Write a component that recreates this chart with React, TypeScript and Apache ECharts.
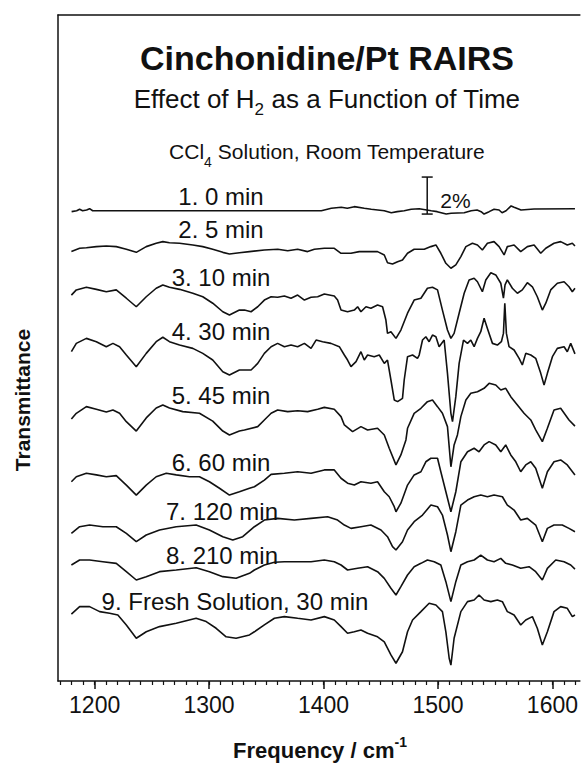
import React, { useEffect, useRef } from "react";
import * as echarts from "echarts";

const FONT = '"Liberation Sans", Arial, Helvetica, sans-serif';

// Frequency axis (cm^-1)
const freqMin = 1168;
const freqMax = 1624;
const majorTicks = [1200, 1300, 1400, 1500, 1600];
const minorTicks = [1170, 1180, 1190, 1200, 1210, 1220, 1230, 1240, 1250, 1260, 1270, 1280, 1290, 1300, 1310, 1320, 1330, 1340, 1350, 1360, 1370, 1380, 1390, 1400, 1410, 1420, 1430, 1440, 1450, 1460, 1470, 1480, 1490, 1500, 1510, 1520, 1530, 1540, 1550, 1560, 1570, 1580, 1590, 1600, 1610, 1620];

// Transmittance axis (%), traces are stacked with offsets
const tMin = 0;
const tMax = 36;

const traceLabels = [
  "1. 0 min",
  "2. 5 min",
  "3. 10 min",
  "4. 30 min",
  "5. 45 min",
  "6. 60 min",
  "7. 120 min",
  "8. 210 min",
  "9. Fresh Solution, 30 min",
];

const trace1 = [[1179.9,25.37],[1184.3,25.42],[1186.9,25.5],[1189.5,25.42],[1193,25.46],[1195.6,25.53],[1198.3,25.42],[1398.1,25.42],[1406.8,25.55],[1415.5,25.61],[1420.8,25.55],[1426.9,25.64],[1435.6,25.55],[1441.7,25.5],[1453.1,25.42],[1459.2,25.31],[1464.4,25.37],[1470.5,25.42],[1476.6,25.5],[1483.6,25.53],[1494.1,25.42],[1499.3,25.37],[1507.2,25.24],[1511.5,25.28],[1522.9,25.31],[1529,25.42],[1534.2,25.46],[1537.7,25.37],[1540.3,25.24],[1544.7,25.37],[1549,25.5],[1553.4,25.46],[1556,25.31],[1559.5,25.42],[1563.9,25.68],[1566.5,25.61],[1572.6,25.46],[1584,25.51],[1619.7,25.53]];

const trace2 = [[1179.7,23.21],[1186.9,23.39],[1192.8,23.42],[1201.5,23.48],[1210.2,23.51],[1218.9,23.48],[1227.7,23.34],[1236.4,23.17],[1245.1,23.48],[1253.8,23.66],[1259.6,23.75],[1265.4,23.69],[1274.2,23.66],[1285.8,23.57],[1294.5,23.48],[1303.2,23.34],[1312,23.17],[1317.8,23.08],[1326.5,23.15],[1335.3,23.21],[1348.3,23.3],[1360,23.34],[1368.7,23.26],[1377.4,23.34],[1386.1,23.21],[1392,23.34],[1400.7,23.39],[1409.4,23.39],[1415.3,23.12],[1424,23.12],[1431.2,23.21],[1447.2,23.21],[1453.1,23.03],[1455.9,22.61],[1460.3,22.54],[1464.7,22.66],[1469,22.76],[1473.4,23.12],[1479.2,23.34],[1488,23.34],[1493.8,23.48],[1498.2,23.57],[1502.5,23.12],[1506.9,22.58],[1511.3,22.31],[1515.6,22.49],[1520,22.94],[1524.4,23.48],[1530.1,23.66],[1534.5,23.57],[1538.8,23.3],[1543.2,23.66],[1549,23.75],[1553.4,23.48],[1557.8,23.03],[1560.6,23.48],[1566.5,23.57],[1572.3,23.21],[1578.1,23.48],[1584,23.57],[1589.8,23.12],[1594.2,23.39],[1601.4,23.66],[1607.2,23.75],[1613,23.57],[1617.4,23.66],[1619.7,23.51]];

const trace3 = [[1179.7,20.86],[1184,21.14],[1192.8,21.28],[1201.5,21.17],[1210.2,21.04],[1218.9,21.14],[1227.7,20.69],[1236.4,20.23],[1245.1,20.77],[1253.8,21.23],[1259.6,21.41],[1265.4,21.28],[1274.2,21.17],[1285.8,20.96],[1294.5,20.77],[1303.2,20.42],[1312,19.96],[1317.8,19.78],[1326.5,20.05],[1330.9,20.05],[1336.7,19.96],[1342.5,20.23],[1348.3,20.59],[1354.2,20.77],[1359.9,20.74],[1365.8,20.81],[1371.6,20.69],[1377.4,20.86],[1383.3,20.59],[1389.1,20.74],[1394.9,20.77],[1400.7,20.92],[1409.4,20.81],[1412.3,20.59],[1415.3,20.05],[1421,19.96],[1426.9,20.05],[1429.8,20.23],[1432.7,19.96],[1437.1,20.23],[1441.4,20.15],[1447.2,20.32],[1451.6,20.23],[1454.5,19.51],[1455.9,18.79],[1458.9,18.88],[1463.3,18.52],[1467.6,18.97],[1473.4,19.88],[1479.2,20.59],[1485.1,20.69],[1490.8,21.23],[1495.2,21.28],[1499.6,21.14],[1503.9,20.05],[1508.3,18.97],[1511.3,18.52],[1514.1,18.79],[1518.5,19.88],[1522.9,20.96],[1527.2,21.68],[1531.6,21.77],[1534.5,21.58],[1538.8,21.04],[1541.8,21.68],[1546.2,22.07],[1550.5,21.95],[1554.9,21.5],[1557.2,20.69],[1558.6,21.41],[1560.6,21.68],[1565,21.23],[1569.4,20.96],[1573.7,21.14],[1578.1,21.53],[1582.5,21.31],[1586.8,20.77],[1591.2,20.05],[1594.2,20.42],[1598.5,21.14],[1604.3,21.5],[1610.2,21.58],[1614.5,21.31],[1617.4,21.04],[1619.7,21.23]];

const trace4 = [[1179.7,17.8],[1184,18.25],[1192.8,18.52],[1201.5,18.34],[1210.2,18.07],[1216,18.25],[1221.8,18.07],[1227.7,17.62],[1236.4,16.99],[1245.1,17.71],[1253.8,18.34],[1259.6,18.58],[1265.4,18.34],[1274.2,18.16],[1285.8,17.98],[1294.5,17.71],[1303.2,17.35],[1312,16.72],[1317.8,16.54],[1326.5,16.81],[1336.7,16.81],[1342.5,17.17],[1348.3,17.71],[1354.2,18.07],[1359.9,18.25],[1365.8,18.07],[1371.6,18.16],[1377.4,18.07],[1383.3,18.25],[1389.1,17.98],[1393.5,18.43],[1399.2,18.34],[1406.5,18.25],[1413.8,18.07],[1418.2,17.62],[1421,17.35],[1424,16.99],[1428.4,17.26],[1432.7,17.8],[1435.6,17.35],[1438.5,17.62],[1444.3,17.53],[1448.7,17.62],[1453.1,17.17],[1455.9,17.35],[1458.9,16.27],[1461.8,15.19],[1464.7,15.1],[1469,15.28],[1470.5,16.27],[1473.4,17.53],[1477.8,17.62],[1482.1,17.44],[1483.6,17.62],[1486.5,18.43],[1489.4,18.61],[1492.3,18.34],[1495.2,18.7],[1498.2,18.61],[1501,18.07],[1505.4,18.43],[1508.3,16.63],[1511.3,14.47],[1512.7,14.02],[1515.6,15.37],[1518.5,17.17],[1522.3,18.43],[1525.8,18.25],[1528.7,18.43],[1531.6,18.07],[1534.5,18.52],[1537.4,18.88],[1540.3,19.61],[1543.2,19.06],[1547.6,18.25],[1551.9,18.16],[1555.4,18.34],[1557.2,18.79],[1558.4,20.42],[1559.8,18.79],[1562.1,18.07],[1566.5,17.89],[1570.9,17.44],[1573.7,17.08],[1576.7,17.71],[1581.1,17.62],[1585.4,17.44],[1589.8,16.63],[1592.7,16],[1595.6,16.63],[1600,17.53],[1604.3,17.98],[1610.2,18.07],[1613,17.8],[1616,18.25],[1619.7,17.68]];

const trace5 = [[1179.7,14.16],[1184,14.47],[1192.8,14.83],[1201.5,14.69],[1210.2,14.54],[1216,14.65],[1221.8,14.47],[1227.7,14.02],[1236.4,13.51],[1245.1,14.22],[1253.8,14.76],[1259.6,14.92],[1265.4,14.76],[1277,14.56],[1291.6,14.47],[1303.2,14.05],[1312,13.51],[1317.8,13.3],[1326.5,13.51],[1330.9,13.57],[1342.5,13.75],[1348.3,14.11],[1354.2,14.47],[1359.9,14.65],[1368.7,14.56],[1377.4,14.61],[1386.1,14.56],[1394.9,14.69],[1400.7,14.79],[1409.4,14.69],[1415.3,14.29],[1418.2,13.84],[1425.4,13.48],[1432.7,13.75],[1438.5,13.57],[1447.2,13.66],[1453.1,13.3],[1457.4,12.58],[1463.3,11.68],[1467.6,12.22],[1472,13.03],[1473.4,13.66],[1479.2,14.47],[1485.1,14.74],[1490.8,15.1],[1495.2,15.19],[1499.6,14.83],[1503.9,14.47],[1508.3,13.75],[1511.3,11.58],[1514.1,12.76],[1517,13.3],[1520,14.29],[1524.4,15.19],[1528.7,15.55],[1534.5,15.64],[1540.3,15.82],[1544.7,16.09],[1550.5,16],[1554.9,15.73],[1559.2,15.82],[1563.6,15.37],[1569.4,14.92],[1575.2,14.47],[1581.1,14.11],[1585.4,13.57],[1591.2,12.94],[1595.6,13.66],[1601.4,14.65],[1607.2,14.74],[1614.5,14.11],[1619.7,13.78]];

const trace6 = [[1179.7,10.77],[1184,11.04],[1192.8,11.23],[1201.5,11.14],[1210.2,11.04],[1218.9,11.1],[1227.7,10.59],[1236.4,10.05],[1245.1,10.59],[1253.8,11.04],[1262.6,11.23],[1271.3,11.14],[1282.9,11.04],[1291.6,11.04],[1300.3,10.77],[1309.1,10.42],[1317.8,10.05],[1326.5,10.23],[1335.3,10.42],[1339.6,10.5],[1348.3,10.86],[1354.2,11.17],[1365.8,11.23],[1377.4,11.31],[1389.1,11.23],[1400.7,11.41],[1409.4,11.41],[1415.3,10.96],[1421,10.69],[1426.9,10.59],[1432.7,10.77],[1441.4,10.69],[1447.2,10.77],[1453.1,10.23],[1457.4,9.96],[1461.8,9.42],[1463.3,9.15],[1467.6,9.61],[1473.4,10.59],[1479.2,11.14],[1485.1,11.31],[1489.4,11.85],[1493.8,12.04],[1499.6,12.04],[1502.5,11.31],[1506.9,10.23],[1511.3,9.15],[1515.6,10.23],[1520,11.85],[1525.8,12.39],[1531.6,12.58],[1535.9,12.39],[1540.3,12.76],[1544.7,12.94],[1550.5,12.76],[1554.9,12.39],[1559.2,12.76],[1563.6,12.22],[1568,11.85],[1572.3,11.31],[1576.7,11.68],[1581.1,11.85],[1585.4,11.5],[1591.2,10.42],[1595.6,11.31],[1601.4,11.85],[1607.2,11.95],[1613,11.68],[1619.7,11.14]];

const trace7 = [[1179.7,7.98],[1186.9,8.34],[1195.6,8.43],[1207.2,8.34],[1218.9,8.34],[1227.7,7.98],[1236.4,7.53],[1245.1,7.89],[1256.7,8.16],[1271.3,8.34],[1288.7,8.43],[1300.3,8.16],[1312,7.8],[1320.7,7.62],[1329.4,7.8],[1339.6,8.34],[1348.3,8.7],[1359.9,8.79],[1374.5,8.7],[1389.1,8.79],[1403.6,8.88],[1412.3,8.7],[1418.2,8.43],[1424,8.25],[1432.7,8.34],[1441.4,8.43],[1450.2,8.16],[1455.9,7.8],[1460.3,7.26],[1463.3,7.08],[1469,7.53],[1473.4,8.16],[1479.2,8.61],[1486.5,8.97],[1493.8,9.51],[1499.6,9.42],[1503.9,8.97],[1508.3,7.89],[1511.3,6.99],[1515.6,8.07],[1520,9.51],[1525.8,9.78],[1531.6,9.96],[1537.4,10.05],[1543.2,9.96],[1549,10.05],[1556.3,9.96],[1560.6,9.51],[1566.5,9.24],[1572.3,8.7],[1578.1,8.79],[1585.4,8.43],[1591.2,7.53],[1595.6,8.25],[1601.4,8.43],[1608.6,8.43],[1614.5,8.25],[1619.7,8.07]];

const trace8 = [[1179.7,6.27],[1186.9,6.54],[1195.6,6.54],[1207.2,6.45],[1218.9,6.36],[1227.7,5.91],[1236.4,5.46],[1245.1,5.64],[1256.7,5.91],[1271.3,6],[1288.7,6.12],[1300.3,5.91],[1312,5.64],[1323.6,5.55],[1335.3,5.82],[1339.6,6],[1348.3,6.27],[1357.1,6.42],[1365.8,6.45],[1377.4,6.45],[1389.1,6.45],[1400.7,6.54],[1409.4,6.45],[1415.3,6.27],[1421,6],[1429.8,6.09],[1438.5,6.18],[1447.2,5.91],[1453.1,5.55],[1458.9,5.01],[1463.3,4.65],[1467.6,5.1],[1473.4,5.73],[1479.2,6.18],[1485.1,6.36],[1490.8,6.54],[1496.7,6.45],[1502.5,6.27],[1506.9,5.37],[1511.3,4.29],[1515.6,5.37],[1520,6.27],[1525.8,6.45],[1531.6,6.54],[1537.4,6.81],[1543.2,6.54],[1549,6.45],[1554.9,6.63],[1559.2,6.36],[1565,6.27],[1572.3,6.09],[1579.6,6.18],[1585.4,5.91],[1591.2,5.46],[1595.6,6.09],[1602.9,6.54],[1610.2,6.45],[1616,6.27],[1619.7,6.05]];

const trace9 = [[1179.7,3.62],[1186.9,4.02],[1195.6,4.02],[1204.4,3.75],[1213.1,3.66],[1220.3,3.57],[1227.7,3.03],[1236.4,2.31],[1245.1,2.66],[1256.7,2.94],[1271.3,3.12],[1288.7,3.39],[1297.5,3.21],[1306.2,2.85],[1314.9,2.39],[1323.6,2.31],[1335.3,2.49],[1339.6,2.66],[1348.3,3.03],[1357.1,3.39],[1365.8,3.48],[1377.4,3.39],[1389.1,3.3],[1400.7,3.48],[1409.4,3.3],[1415.3,2.94],[1421,2.58],[1426.9,2.66],[1432.7,2.76],[1438.5,2.58],[1447.2,2.39],[1453.1,2.12],[1458.9,1.41],[1463.3,0.96],[1469,1.58],[1473.4,2.66],[1477.8,3.3],[1485.1,3.75],[1492.3,4.2],[1498.2,4.11],[1503.9,3.75],[1506.9,2.66],[1509.8,1.23],[1511.3,0.86],[1514.1,2.31],[1520,3.75],[1525.8,4.29],[1531.6,4.38],[1535.9,4.65],[1540.3,4.38],[1546.2,4.29],[1551.9,4.38],[1556.3,4.29],[1560.6,3.75],[1566.5,3.57],[1572.3,3.03],[1576.7,3.3],[1582.5,3.48],[1586.8,2.85],[1591.2,1.95],[1595.6,2.66],[1601.4,3.75],[1607.2,4.02],[1613,3.93],[1617.4,3.48],[1619.7,3.57]];

const traces = [trace1, trace2, trace3, trace4, trace5, trace6, trace7, trace8, trace9];

// Scale bar: 2 % transmittance
const scaleBarFreq = 1490.6;
const scaleBarBase = 25.24;
const scaleBarSpan = 2;
const scaleBarLabel = "2%";

// Label centres (px) for each trace label
const labelPos = [
  [221, 196],
  [221, 229],
  [221, 277],
  [221, 331],
  [221, 395],
  [221, 462],
  [222, 511],
  [222, 555],
  [235, 601],
];

const INK = "#111";

function txt(x: number, y: number, text: string, extra: any = {}, rot = 0) {
  return {
    type: "text",
    x,
    y,
    rotation: rot,
    silent: true,
    style: Object.assign(
      {
        text,
        fill: INK,
        fontFamily: FONT,
        fontSize: 20,
        align: "center",
        verticalAlign: "middle",
        textAlign: "center",
        textVerticalAlign: "middle",
      },
      extra
    ),
  };
}

export default function App() {
  const ref = useRef<HTMLDivElement>(null);
  useEffect(() => {
    if (!ref.current) return;
    const chart = echarts.init(ref.current, null, { renderer: "svg" });
    const axisLineStyle = { color: INK, width: 1.5 };
    const option: any = {
      animation: false,
      backgroundColor: "#fff",
      grid: { left: 58, right: 0, top: 15, bottom: 84, containLabel: false },
      xAxis: [
        {
          type: "value",
          min: freqMin,
          max: freqMax,
          position: "bottom",
          axisLine: { show: true, onZero: false, lineStyle: axisLineStyle },
          axisTick: { show: true, customValues: majorTicks, length: 8, lineStyle: { color: INK, width: 1.5 } },
          axisLabel: {
            show: true,
            customValues: majorTicks,
            color: INK,
            fontSize: 23,
            fontFamily: FONT,
            margin: 12,
            formatter: (v: number) => String(v),
          },
          splitLine: { show: false },
        },
        {
          type: "value",
          min: freqMin,
          max: freqMax,
          position: "bottom",
          axisLine: { show: false },
          axisTick: { show: true, customValues: minorTicks, length: 4, lineStyle: { color: INK, width: 1.2 } },
          axisLabel: { show: false },
          splitLine: { show: false },
        },
        {
          type: "value",
          min: freqMin,
          max: freqMax,
          position: "top",
          axisLine: { show: true, onZero: false, lineStyle: axisLineStyle },
          axisTick: { show: false },
          axisLabel: { show: false },
          splitLine: { show: false },
        },
      ],
      yAxis: {
        type: "value",
        min: tMin,
        max: tMax,
        axisLine: { show: true, onZero: false, lineStyle: axisLineStyle },
        axisTick: { show: false },
        axisLabel: { show: false },
        splitLine: { show: false },
      },
      series: [
        ...traces.map((d, i) => ({
          name: traceLabels[i],
          type: "line",
          xAxisIndex: 0,
          yAxisIndex: 0,
          data: d,
          symbol: "none",
          smooth: false,
          lineStyle: { color: INK, width: 1.6 },
          silent: true,
        })),
        {
          type: "custom",
          xAxisIndex: 0,
          yAxisIndex: 0,
          silent: true,
          clip: false,
          data: [[scaleBarFreq, scaleBarBase, scaleBarSpan]],
          renderItem: (params: any, api: any) => {
            const x = api.value(0);
            const y0 = api.value(1);
            const span = api.value(2);
            const p0 = api.coord([x, y0]);
            const p1 = api.coord([x, y0 + span]);
            const st = { stroke: INK, lineWidth: 1.5 };
            return {
              type: "group",
              children: [
                { type: "line", shape: { x1: p0[0], y1: p0[1], x2: p1[0], y2: p1[1] }, style: st },
                { type: "line", shape: { x1: p0[0] - 5.5, y1: p0[1], x2: p0[0] + 5.5, y2: p0[1] }, style: st },
                { type: "line", shape: { x1: p1[0] - 5.5, y1: p1[1], x2: p1[0] + 5.5, y2: p1[1] }, style: st },
                {
                  type: "text",
                  x: p0[0] + 13,
                  y: (p0[1] + p1[1]) / 2 + 5,
                  style: {
                    text: scaleBarLabel,
                    fill: INK,
                    fontSize: 21,
                    fontFamily: FONT,
                    align: "left",
                    verticalAlign: "middle",
                    textAlign: "left",
                    textVerticalAlign: "middle",
                  },
                },
              ],
            };
          },
        },
      ],
      graphic: [
        txt(327, 58, "Cinchonidine/Pt RAIRS", { fontSize: 34, fontWeight: "bold" }),
        txt(327, 99, "Effect of H{s|2} as a Function of Time", {
          fontSize: 26,
          rich: {
            s: { fontSize: 17, fontFamily: FONT, fill: INK, verticalAlign: "bottom", lineHeight: 17 },
          },
          lineHeight: 38,
        }),
        txt(327, 151, "CCl{s|4} Solution, Room Temperature", {
          fontSize: 21,
          rich: {
            s: { fontSize: 14, fontFamily: FONT, fill: INK, verticalAlign: "bottom", lineHeight: 14 },
          },
          lineHeight: 36,
        }),
        ...traceLabels.map((t, i) => txt(labelPos[i][0], labelPos[i][1], t, { fontSize: 24 })),
        txt(320, 750, "Frequency / cm{p|-1}", {
          fontSize: 22,
          fontWeight: "bold",
          rich: {
            p: { fontSize: 14, fontFamily: FONT, fontWeight: "bold", fill: INK, verticalAlign: "top", lineHeight: 14 },
          },
          lineHeight: 30,
        }),
        txt(22, 400, "Transmittance", { fontSize: 21, fontWeight: "bold" }, Math.PI / 2),
      ],
    };
    chart.setOption(option);
    return () => chart.dispose();
  }, []);
  return (
    <div
      ref={ref}
      style={{ position: "fixed", left: 0, top: 0, width: 581, height: 765, background: "#fff" }}
    />
  );
}
